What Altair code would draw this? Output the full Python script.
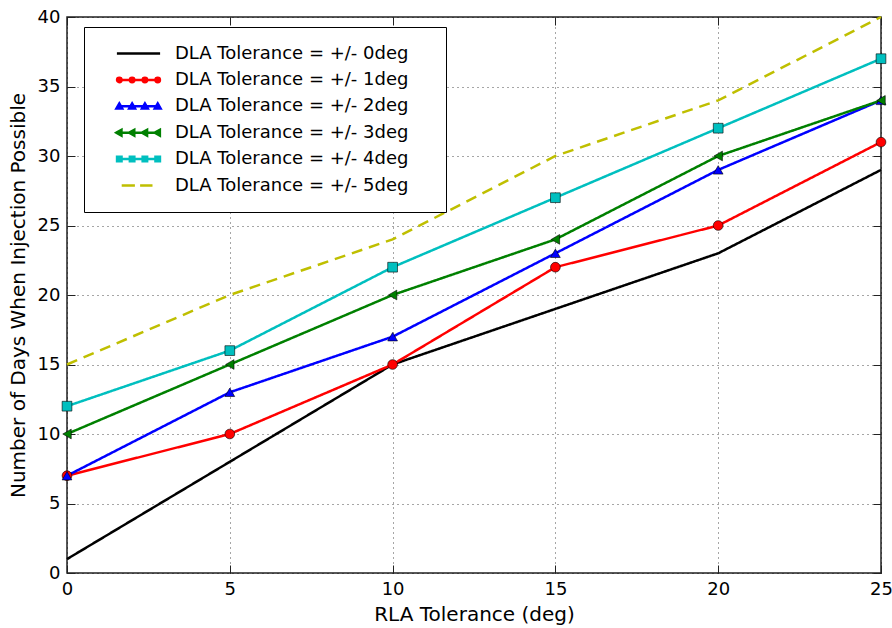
import altair as alt
import pandas as pd

rla = [0, 5, 10, 15, 20, 25]
series_names = [
    "DLA Tolerance = +/- 0deg",
    "DLA Tolerance = +/- 1deg",
    "DLA Tolerance = +/- 2deg",
    "DLA Tolerance = +/- 3deg",
    "DLA Tolerance = +/- 4deg",
    "DLA Tolerance = +/- 5deg",
]
days_0 = [1, 8, 15, 19, 23, 29]
days_1 = [7, 10, 15, 22, 25, 31]
days_2 = [7, 13, 17, 23, 29, 34]
days_3 = [10, 15, 20, 24, 30, 34]
days_4 = [12, 16, 22, 27, 32, 37]
days_5 = [15, 20, 24, 30, 34, 40]
all_days = [days_0, days_1, days_2, days_3, days_4, days_5]
x_ticks = [0, 5, 10, 15, 20, 25]
y_ticks = [0, 5, 10, 15, 20, 25, 30, 35, 40]

colors = ["#000000", "#ff0000", "#0000ff", "#008000", "#00bfbf", "#bfbf00"]
dashes = [[1, 0], [1, 0], [1, 0], [1, 0], [1, 0], [11, 7]]
marker_series = series_names[1:5]
marker_shapes = ["circle", "triangle-up", "triangle-left", "square"]


# ---- legend symbol glyphs (unit = sqrt(symbolSize)/2 px) ----
def circ(cx, r=0.28):
    return f"M{cx + r},0A{r},{r},0,1,1,{cx - r},0A{r},{r},0,1,1,{cx + r},0Z"


def tri_up(cx, r=0.36):
    return f"M{cx},{-r}L{cx + r},{r * 0.75}L{cx - r},{r * 0.75}Z"


def tri_left(cx, r=0.36):
    return f"M{cx - r},0L{cx + r * 0.75},{-r}L{cx + r * 0.75},{r}Z"


def sq(cx, r=0.28):
    return f"M{cx - r},{-r}L{cx + r},{-r}L{cx + r},{r}L{cx - r},{r}Z"


X0, X1 = 0.8, 6.2
pos = [1.1, 2.7, 4.3, 5.9]
anchor = "M-1,0M39.1,0"
base_line = f"M{X0},0L{X1},0"
legend_paths = [
    anchor + base_line,
    anchor + base_line + "".join(circ(p) for p in pos),
    anchor + base_line + "".join(tri_up(p) for p in pos),
    anchor + base_line + "".join(tri_left(p) for p in pos),
    anchor + base_line + "".join(sq(p) for p in pos),
    anchor + "M1.4,0L3.05,0M3.7,0L5.25,0",
]

rows = []
for name, vals in zip(series_names, all_days):
    for x, y in zip(rla, vals):
        rows.append({"rla": x, "days": y, "series": name})
df = pd.DataFrame(rows)

x_scale = alt.Scale(domain=[0, 25], nice=False)
y_scale = alt.Scale(domain=[0, 40], nice=False)

x_enc = alt.X(
    "rla:Q",
    title="RLA Tolerance (deg)",
    scale=x_scale,
    axis=alt.Axis(values=x_ticks, labelFlush=False, format="d", offset=-8,
                  ticks=True, tickSize=8, grid=True),
)
y_enc = alt.Y(
    "days:Q",
    title="Number of Days When Injection Possible",
    scale=y_scale,
    axis=alt.Axis(values=y_ticks, labelFlush=False, format="d", offset=-8,
                  ticks=True, tickSize=8, grid=True),
)
x_plain = alt.X("rla:Q", scale=x_scale, axis=None)
y_plain = alt.Y("days:Q", scale=y_scale, axis=None)

lines = alt.Chart(df).mark_line(strokeWidth=2.5).encode(
    x=x_enc,
    y=y_enc,
    color=alt.Color("series:N", scale=alt.Scale(domain=series_names, range=colors), legend=None),
    strokeDash=alt.StrokeDash("series:N", scale=alt.Scale(domain=series_names, range=dashes), legend=None),
    order="rla:Q",
)

ticks_layer = alt.Chart(df).mark_point(opacity=0).encode(
    x=alt.X("rla:Q", scale=x_scale,
            axis=alt.Axis(orient="top", values=x_ticks, labels=False, title=None, grid=False,
                          ticks=True, tickSize=8, offset=-8)),
    y=alt.Y("days:Q", scale=y_scale,
            axis=alt.Axis(orient="right", values=y_ticks, labels=False, title=None, grid=False,
                          ticks=True, tickSize=8, offset=-8)),
)

points = alt.Chart(df).transform_filter(
    alt.FieldOneOfPredicate(field="series", oneOf=marker_series)
).mark_point(filled=True, size=95, stroke="black", strokeWidth=0.6, opacity=1).encode(
    x=x_plain,
    y=y_plain,
    color=alt.Color("series:N", scale=alt.Scale(domain=series_names, range=colors), legend=None),
    shape=alt.Shape("series:N", scale=alt.Scale(domain=marker_series, range=marker_shapes), legend=None),
)

leg = alt.Legend(
    title=None,
    orient="none",
    legendX=17,
    legendY=10,
    symbolSize=256,
    symbolStrokeWidth=2.5,
    symbolOpacity=1,
    labelFontSize=18,
    labelFont="DejaVu Sans",
    labelColor="black",
    labelOffset=55,
    rowPadding=7.4,
    padding=17,
    fillColor="white",
    strokeColor="black",
    cornerRadius=0,
    labelLimit=400,
)

legend_layer = alt.Chart(df).mark_point(opacity=0, filled=True).encode(
    x=x_plain,
    y=y_plain,
    fill=alt.Fill("series:N", scale=alt.Scale(domain=series_names, range=colors), legend=leg),
    stroke=alt.Stroke("series:N", scale=alt.Scale(domain=series_names, range=colors), legend=leg),
    shape=alt.Shape("series:N", scale=alt.Scale(domain=series_names, range=legend_paths), legend=leg),
)

chart = (
    alt.layer(lines, ticks_layer, points, legend_layer)
    .resolve_scale(shape="independent", fill="independent", stroke="independent")
    .resolve_axis(x="independent", y="independent")
    .properties(
        width=814,
        height=556,
        autosize=alt.AutoSizeParams(type="none"),
        padding={"left": 67, "top": 17, "right": 11, "bottom": 55},
        background="white",
    )
    .configure_view(stroke="#222222", strokeWidth=1.5)
    .configure_axis(
        domain=False,
        tickColor="#222222",
        tickWidth=1,
        gridColor="#000000",
        gridDash=[1, 4],
        gridWidth=1,
        gridOpacity=0.7,
        labelFont="DejaVu Sans",
        labelFontSize=18,
        labelColor="black",
        titleFont="DejaVu Sans",
        titleFontSize=20,
        titleFontWeight="normal",
        titleColor="black",
        labelPadding=7,
    )
    .configure_axisY(titlePadding=9)
    .configure_axisX(titlePadding=6)
)

chart.save("out.html", embed_options={"renderer": "svg", "actions": False})
